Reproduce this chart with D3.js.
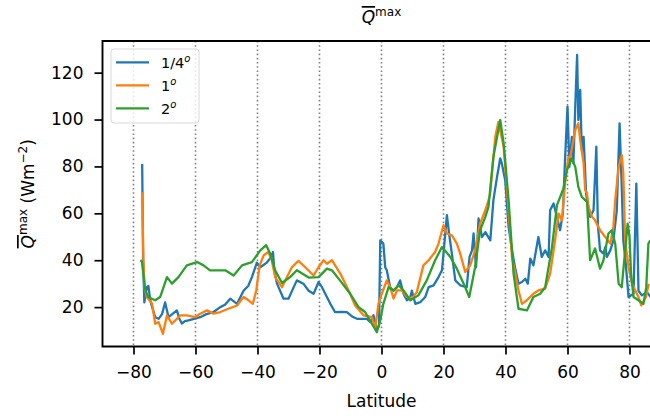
<!DOCTYPE html>
<html>
<head>
<meta charset="utf-8">
<script src="https://cdn.jsdelivr.net/npm/d3@7"></script>
<style>
	body { margin: 0; background: #fff; }
	svg { font-family: "DejaVu Sans", sans-serif; display: block; }
</style>
</head>
<body>
<script>
// Latitude ticks and value ticks
var xTicks = [-80, -60, -40, -20, 0, 20, 40, 60, 80];
var yTicks = [20, 40, 60, 80, 100, 120];
var seriesNames = ["1/4", "1", "2"];

// 1/4 degree run
var latQ4 = [-77.2, -76.9, -76.5, -75.7, -75.2, -74.6, -74.0, -73.0, -71.9, -70.8, -69.8, -68.7, -67.5, -66.0, -65.2, -64.4,
	-63.4, -62.3, -60.5, -58.5, -56.5, -54.2, -52.0, -50.5, -48.8, -46.6, -44.5, -43.0, -41.8, -40.2, -39.1, -37.0,
	-35.8, -35.0, -34.6, -33.7, -31.6, -30.0, -28.5, -27.3, -25.2, -23.5, -21.9, -20.3, -19.2, -17.5, -16.5, -15.0,
	-13.0, -11.2, -9.5, -7.9, -4.7, -3.6, -2.6, -1.5, -0.8, -0.4, 0.6, 1.2, 1.7, 2.8, 3.9, 5.0, 6.0, 7.1, 8.2, 9.3,
	9.8, 10.9, 12.5, 14.1, 15.2, 16.8, 18.4, 19.5, 20.0, 21.1, 21.8, 22.7, 23.8, 25.4, 27.5, 28.4, 29.2, 29.7, 30.5,
	31.3, 32.4, 33.5, 35.1, 36.1, 37.2, 38.3, 38.8, 39.9, 41.0, 42.1, 43.2, 44.2, 45.3, 46.4, 47.2, 48.0, 49.0, 50.6,
	51.7, 52.8, 53.9, 54.4, 55.5, 56.6, 57.6, 58.5, 59.2, 60.0, 60.6, 61.4, 61.9, 62.5, 63.1, 63.5, 64.1, 64.6, 65.2,
	66.0, 66.3, 67.3, 68.4, 69.3, 69.8, 70.5, 71.6, 72.2, 72.7, 73.8, 74.8, 75.9, 76.8, 77.5, 78.0, 78.6, 79.7, 81.3,
	82.2, 82.9, 84.0, 85.6, 87.0];
var valQ4 = [81, 40, 22, 28.5, 29, 22.9, 20, 15.7, 15, 17, 22, 15.7, 17, 18.6, 15, 13,
	14, 14.3, 15, 15.7, 17, 17.9, 20, 21, 23.6, 21.4, 27, 29, 32.8, 39, 37, 39,
	41, 43.5, 36, 30, 23.6, 23.6, 28, 31.4, 30, 27, 25.7, 30.7, 28.5, 24, 21.4, 17.9,
	18, 17.9, 16, 15, 15, 13.6, 16.5, 10.5, 12, 48.5, 47, 37, 35.7, 28.5, 27, 28.5, 31.4, 25.7, 22.9, 24.3,
	27, 21.4, 22.1, 24.3, 28.5, 29.3, 32.8, 35.7, 42.8, 59.2, 51.4, 42.8, 31.4, 29.3, 28.5, 41.4, 44.2, 51.4, 37,
	57.8, 49.9, 52, 48.5, 65.6, 75, 83.4, 81.3, 74.1, 54.2, 44.2, 36, 30, 30.7, 32.1, 30, 40.7, 37.8, 49.9,
	41.4, 44.2, 41.4, 61.3, 64.2, 58.5, 52.8, 59.9, 82.7, 105.5, 79.8, 92.6, 81.3, 105.5, 127.6, 99.8, 112.6, 87, 92.6,
	68.5, 65.6, 58.5, 61.3, 88.4, 55, 44.2, 42.8, 45.6, 41.4, 44.2, 48.5, 61.3, 98.4, 71.3, 48.5, 41.4, 24.3, 25.7,
	72.7, 27, 25, 26.4, 24];

// 1 degree run
var latQ1 = [-77.2, -76.8, -76.4, -75.7, -74.0, -73.0, -71.9, -70.5, -69.2, -67.6, -64.9, -62.8, -60.1, -58.5, -56.3, -54.2,
	-52.0, -49.4, -46.6, -44.5, -42.9, -41.5, -40.4, -39.3, -38.0, -36.5, -35.4, -34.3, -32.1, -30.5, -28.9, -26.8,
	-24.6, -21.9, -20.3, -18.7, -17.6, -16.0, -13.3, -10.6, -8.5, -5.8, -3.1, -2.0, -1.0, 0.1, 1.7, 2.8, 3.9, 5.0,
	6.6, 8.2, 9.8, 11.4, 13.5, 15.2, 17.3, 18.4, 20.0, 21.1, 22.7, 24.3, 25.4, 27.0, 28.6, 30.2, 31.8, 33.5, 35.0,
	36.7, 37.7, 39.4, 40.5, 42.1, 44.2, 45.3, 46.9, 49.0, 50.6, 52.8, 54.4, 56.0, 57.1, 58.2, 59.2, 60.3, 60.9, 62.5,
	63.5, 64.1, 65.2, 65.7, 66.3, 66.8, 67.9, 68.9, 70.5, 72.2, 73.8, 74.8, 75.4, 76.5, 77.5, 78.0, 78.6, 79.7, 80.8,
	82.9, 83.8, 85.3, 86.2];
var valQ1 = [69, 40, 28, 24.3, 21.4, 12.9, 13.6, 8.6, 16.5, 12.9, 16.5, 16.5, 15.7, 17.2, 18.6, 17.2,
	17.9, 19.3, 20.7, 24.3, 22.9, 21.4, 27.1, 37.8, 42.1, 43.5, 40, 32.8, 28.5, 32.8, 37, 39.7,
	37, 33.5, 37, 40, 38.5, 40, 34.3, 27.1, 20.7, 16.5, 15.7, 11, 21.4, 25.7, 31.4, 28.5, 23.6, 27.1,
	27.1, 24.3, 23.6, 26.4, 37.8, 40, 43.5, 47.1, 54.9, 51.4, 50.6, 47.1, 42.8, 35, 37.8, 44.2, 55.6, 61.3, 67.7,
	92.6, 99, 88.4, 70, 41.4, 27.1, 21.4, 22.9, 25.7, 27.1, 27.9, 34.3, 48.5, 59.9, 57, 72.7, 84.1, 84, 95.5,
	98.4, 91.2, 81.3, 70, 68.5, 62.7, 58.5, 57, 52.8, 49.9, 47.1, 54.2, 65.6, 79.8, 84.8, 77, 48.5, 37, 30,
	24.3, 20.7, 24.3, 30];

// 2 degree run
var latQ2 = [-77.8, -77.3, -76.2, -75.2, -74.1, -73.0, -71.4, -69.2, -67.6, -65.5, -62.8, -59.5, -57.4, -55.3, -53.1, -50.4,
	-47.7, -45.0, -41.8, -39.1, -37.2, -35.9, -34.3, -32.1, -29.5, -27.3, -23.5, -20.3, -17.6, -16.0, -13.4, -10.1,
	-7.4, -5.3, -3.1, -1.5, -0.4, 0.6, 2.3, 3.9, 5.5, 7.1, 9.3, 11.9, 14.6, 17.3, 19.5, 22.2, 24.3, 26.5, 28.3,
	30.2, 31.8, 33.5, 34.5, 36.1, 38.3, 39.4, 41.0, 42.6, 44.2, 46.9, 49.0, 51.2, 52.8, 55.0, 56.6, 58.7, 59.8, 61.4,
	62.5, 63.5, 64.6, 66.3, 67.3, 68.9, 70.5, 71.6, 73.2, 74.3, 75.4, 76.5, 77.5, 78.6, 79.4, 80.0, 80.5, 81.3, 82.9,
	84.5, 85.4, 86.1, 86.7];
var valQ2 = [40, 39.5, 27.1, 24.3, 23.6, 22.9, 24.3, 32.8, 30, 32.8, 37.8, 39.2, 37.8, 35.7, 35.7, 35.7,
	33.5, 37.8, 39.2, 44.2, 46.4, 42.8, 35.7, 30.3, 32.8, 35.7, 32.6, 32.8, 36.4, 35.7, 31.4, 25.7,
	20, 17.9, 12.9, 9.3, 14.3, 21.4, 28.5, 27.1, 29.3, 27.1, 22.9, 25, 31.4, 40, 45.6, 41.4, 36.4, 30, 24.3,
	37, 52.8, 58.5, 62.7, 84.1, 99.8, 89.8, 65.6, 34.3, 19.3, 18.6, 24.3, 25.7, 28.5, 45.6, 63.5, 70.6, 78.4, 83.4,
	79.8, 71.3, 67, 64.9, 40, 45, 36.4, 40, 51.4, 52.8, 47, 30, 28.5, 44.2, 55.6, 50, 34.3, 24.3, 22.9,
	21.4, 28.5, 47.1, 48.5];

var colors = ["#1f77b4", "#ff7f0e", "#2ca02c"];

function generateViz() {
	var width = 650,
		height = 419;
	var left = 102.5, right = 660.5, top = 41, bottom = 346.5;
	var fs = 17, sup = 12;

	var x = d3.scaleLinear().domain([-90, 90]).range([left, right]);
	var y = d3.scaleLinear().domain([3.2, 133.5]).range([bottom, top]);

	var svg = d3.select("body")
				.append("svg")
				.attr("width", width)
				.attr("height", height);

	svg.append("clipPath")
		.attr("id", "plotclip")
		.append("rect")
		.attr("x", left)
		.attr("y", top)
		.attr("width", right - left)
		.attr("height", bottom - top);

	// vertical dotted grid at the latitude ticks
	svg.append("g")
		.selectAll("line")
		.data(xTicks)
		.enter()
		.append("line")
		.attr("x1", function(d) { return x(d); })
		.attr("x2", function(d) { return x(d); })
		.attr("y1", top)
		.attr("y2", bottom)
		.attr("stroke", "#808080")
		.attr("stroke-width", 1.6)
		.attr("stroke-dasharray", "1.6,2.6");

	var lats = [latQ4, latQ1, latQ2];
	var vals = [valQ4, valQ1, valQ2];
	var line = d3.line()
		.x(function(d) { return x(d[0]); })
		.y(function(d) { return y(d[1]); });

	var plot = svg.append("g").attr("clip-path", "url(#plotclip)");
	lats.forEach(function(la, i) {
		var pts = la.map(function(v, j) { return [v, vals[i][j]]; });
		plot.append("path")
			.attr("d", line(pts))
			.attr("fill", "none")
			.attr("stroke", colors[i])
			.attr("stroke-width", 2.3)
			.attr("stroke-linejoin", "round");
	});

	// axes
	var fmt = function(d) { return d < 0 ? "\u2212" + Math.abs(d) : d; };
	var xAxis = svg.append("g")
		.attr("transform", "translate(0," + bottom + ")")
		.call(d3.axisBottom(x).tickValues(xTicks).tickFormat(fmt).tickSizeOuter(0).tickSize(8).tickPadding(11));
	var yAxis = svg.append("g")
		.attr("transform", "translate(" + left + ",0)")
		.call(d3.axisLeft(y).tickValues(yTicks).tickSizeOuter(0).tickSize(8).tickPadding(11));
	[xAxis, yAxis].forEach(function(a) {
		a.select(".domain").remove();
		a.selectAll(".tick line").attr("stroke", "#000").attr("stroke-width", 1.7);
		a.selectAll(".tick text")
			.attr("fill", "#000")
			.style("font-size", fs + "px")
			.style("font-family", "DejaVu Sans");
	});

	// spines: left, bottom, top (right is outside the window)
	svg.append("path")
		.attr("d", "M" + right + "," + top + "H" + left + "V" + bottom + "H" + right)
		.attr("fill", "none")
		.attr("stroke", "#000")
		.attr("stroke-width", 1.9);

	// title
	var title = svg.append("text")
		.attr("x", (left + right) / 2)
		.attr("y", 23)
		.attr("text-anchor", "middle")
		.style("font-size", fs + "px");
	title.append("tspan").style("font-style", "italic").style("text-decoration", "overline").text("Q");
	title.append("tspan").attr("dy", -7).style("font-size", sup + "px").text("max");

	// x label
	svg.append("text")
		.attr("x", (left + right) / 2)
		.attr("y", 407)
		.attr("text-anchor", "middle")
		.style("font-size", fs + "px")
		.text("Latitude");

	// y label
	var ylab = svg.append("text")
		.attr("transform", "translate(34," + ((top + bottom) / 2) + ") rotate(-90)")
		.attr("text-anchor", "middle")
		.style("font-size", fs + "px");
	ylab.append("tspan").style("font-style", "italic").style("text-decoration", "overline").text("Q");
	ylab.append("tspan").attr("dy", -7).style("font-size", sup + "px").text("max");
	ylab.append("tspan").attr("dy", 7).text(" (Wm");
	ylab.append("tspan").attr("dy", -7).style("font-size", sup + "px").text("\u22122");
	ylab.append("tspan").attr("dy", 7).text(")");

	// legend
	var legend = svg.append("g");
	legend.append("rect")
		.attr("x", 111)
		.attr("y", 49)
		.attr("width", 88)
		.attr("height", 74)
		.attr("rx", 3)
		.attr("fill", "#fff")
		.attr("fill-opacity", 0.8)
		.attr("stroke", "#d9d9d9")
		.attr("stroke-width", 1);
	seriesNames.forEach(function(name, i) {
		var ly = 62.3 + i * 23;
		legend.append("line")
			.attr("x1", 116)
			.attr("x2", 149)
			.attr("y1", ly)
			.attr("y2", ly)
			.attr("stroke", colors[i])
			.attr("stroke-width", 2.3);
		var t = legend.append("text")
			.attr("x", 161)
			.attr("y", ly + 5.5)
			.style("font-size", "14.5px");
		t.append("tspan").text(name);
		t.append("tspan").attr("dy", -6).style("font-size", "10px").style("font-style", "italic").text("o");
	});
} // generateViz()

generateViz();
</script>
</body>
</html>
